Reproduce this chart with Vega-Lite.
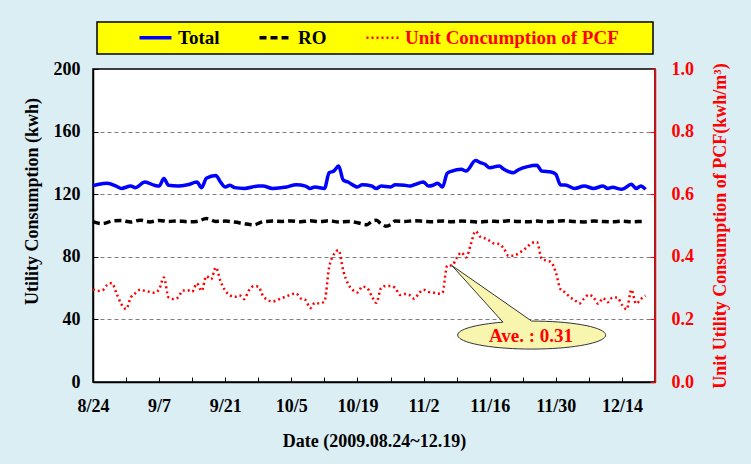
{
"$schema": "https://vega.github.io/schema/vega-lite/v6.json",
"width": 562, "height": 313,
"autosize": {"type": "none"},
"padding": {"left": 93, "top": 69, "right": 96, "bottom": 82},
"background": "#dbeef4",
"config": {
  "view": {"fill": "white", "stroke": "black", "strokeWidth": 1.5},
  "font": "Liberation Serif",
  "axis": {"labelFont": "Liberation Serif", "titleFont": "Liberation Serif", "labelFontWeight": "bold", "titleFontWeight": "bold", "labelOverlap": false, "labelBound": false, "labelFlush": false, "domainWidth": 1.5, "tickWidth": 1}
},
"datasets": {
  "total": [
    {"date":"2009-08-24","v":125.5},{"date":"2009-08-25","v":126.2},{"date":"2009-08-27","v":127},{"date":"2009-08-29","v":125},{"date":"2009-08-30","v":123.7},
    {"date":"2009-09-01","v":125.2},{"date":"2009-09-02","v":124.2},{"date":"2009-09-04","v":127.8},{"date":"2009-09-06","v":125.7},{"date":"2009-09-07","v":125.2},
    {"date":"2009-09-08","v":130},{"date":"2009-09-09","v":125.7},{"date":"2009-09-11","v":125.2},{"date":"2009-09-13","v":126},{"date":"2009-09-15","v":127.8},
    {"date":"2009-09-16","v":124.2},{"date":"2009-09-17","v":130.2},{"date":"2009-09-19","v":132},{"date":"2009-09-20","v":127.8},{"date":"2009-09-21","v":124.6},
    {"date":"2009-09-22","v":125.7},{"date":"2009-09-23","v":124.2},{"date":"2009-09-25","v":123.7},{"date":"2009-09-28","v":125.2},{"date":"2009-09-29","v":125.2},
    {"date":"2009-10-01","v":123.7},{"date":"2009-10-03","v":124.2},{"date":"2009-10-04","v":124.6},{"date":"2009-10-06","v":126.1},{"date":"2009-10-08","v":125.2},
    {"date":"2009-10-09","v":123.7},{"date":"2009-10-10","v":124.6},{"date":"2009-10-12","v":123.7},{"date":"2009-10-13","v":133.7},{"date":"2009-10-14","v":134.8},
    {"date":"2009-10-15","v":138},{"date":"2009-10-16","v":129},{"date":"2009-10-17","v":127.8},{"date":"2009-10-19","v":124.6},{"date":"2009-10-20","v":126},
    {"date":"2009-10-22","v":125.2},{"date":"2009-10-23","v":123.7},{"date":"2009-10-24","v":125.2},{"date":"2009-10-26","v":124.6},{"date":"2009-10-27","v":126},
    {"date":"2009-10-29","v":125.7},{"date":"2009-10-30","v":125.2},{"date":"2009-10-31","v":126},{"date":"2009-11-02","v":127.8},{"date":"2009-11-03","v":125.2},
    {"date":"2009-11-04","v":125.7},{"date":"2009-11-05","v":127},{"date":"2009-11-06","v":124.6},{"date":"2009-11-07","v":133.4},{"date":"2009-11-08","v":134.8},
    {"date":"2009-11-10","v":135.9},{"date":"2009-11-11","v":134.8},{"date":"2009-11-13","v":141.5},{"date":"2009-11-14","v":140.2},{"date":"2009-11-15","v":139.1},
    {"date":"2009-11-16","v":136.9},{"date":"2009-11-18","v":138},{"date":"2009-11-19","v":135.9},{"date":"2009-11-21","v":133.7},{"date":"2009-11-22","v":135.5},
    {"date":"2009-11-24","v":137.6},{"date":"2009-11-26","v":138.5},{"date":"2009-11-27","v":134.8},{"date":"2009-11-29","v":134.2},{"date":"2009-11-30","v":132.7},
    {"date":"2009-12-01","v":125.9},{"date":"2009-12-02","v":125.9},{"date":"2009-12-04","v":123.7},{"date":"2009-12-06","v":125.2},{"date":"2009-12-08","v":123.7},
    {"date":"2009-12-10","v":125.2},{"date":"2009-12-11","v":123.7},{"date":"2009-12-12","v":124.4},{"date":"2009-12-14","v":123.1},{"date":"2009-12-16","v":126.3},
    {"date":"2009-12-17","v":123.7},{"date":"2009-12-18","v":125.2},{"date":"2009-12-19","v":123.1}
  ],
  "ro": [
    {"date":"2009-08-24","v":102.5},{"date":"2009-08-26","v":101.2},{"date":"2009-08-28","v":102.8},{"date":"2009-08-30","v":103.2},{"date":"2009-09-01","v":102.2},
    {"date":"2009-09-03","v":103.4},{"date":"2009-09-05","v":102.3},{"date":"2009-09-07","v":103.2},{"date":"2009-09-09","v":102.6},{"date":"2009-09-11","v":103.0},
    {"date":"2009-09-13","v":102.4},{"date":"2009-09-15","v":102.6},{"date":"2009-09-17","v":104.4},{"date":"2009-09-19","v":102.6},{"date":"2009-09-21","v":102.8},
    {"date":"2009-09-23","v":102.2},{"date":"2009-09-25","v":101.2},{"date":"2009-09-27","v":100.4},{"date":"2009-09-29","v":102.4},{"date":"2009-10-01","v":102.8},
    {"date":"2009-10-03","v":102.6},{"date":"2009-10-05","v":102.9},{"date":"2009-10-07","v":102.4},{"date":"2009-10-09","v":103.0},{"date":"2009-10-11","v":102.5},
    {"date":"2009-10-13","v":103.0},{"date":"2009-10-15","v":102.3},{"date":"2009-10-17","v":102.6},{"date":"2009-10-19","v":101.8},{"date":"2009-10-21","v":100.5},
    {"date":"2009-10-22","v":102.5},{"date":"2009-10-23","v":103.3},{"date":"2009-10-24","v":101.0},{"date":"2009-10-25","v":99.6},{"date":"2009-10-26","v":100.5},
    {"date":"2009-10-27","v":102.8},{"date":"2009-10-29","v":102.6},{"date":"2009-10-31","v":103.0},{"date":"2009-11-02","v":102.7},{"date":"2009-11-04","v":102.4},
    {"date":"2009-11-06","v":102.9},{"date":"2009-11-08","v":102.4},{"date":"2009-11-10","v":102.8},{"date":"2009-11-12","v":102.6},{"date":"2009-11-14","v":102.2},
    {"date":"2009-11-16","v":102.8},{"date":"2009-11-18","v":102.5},{"date":"2009-11-20","v":103.0},{"date":"2009-11-22","v":102.6},{"date":"2009-11-24","v":102.4},
    {"date":"2009-11-26","v":102.8},{"date":"2009-11-28","v":102.4},{"date":"2009-11-30","v":102.7},{"date":"2009-12-02","v":103.0},{"date":"2009-12-04","v":102.5},
    {"date":"2009-12-06","v":102.3},{"date":"2009-12-08","v":102.8},{"date":"2009-12-10","v":102.5},{"date":"2009-12-12","v":102.4},{"date":"2009-12-14","v":102.8},
    {"date":"2009-12-16","v":102.4},{"date":"2009-12-18","v":102.6},{"date":"2009-12-19","v":102.7}
  ],
  "pcf": [
    {"date":"2009-08-24","v":0.296},{"date":"2009-08-25","v":0.291},{"date":"2009-08-26","v":0.293},{"date":"2009-08-27","v":0.310},{"date":"2009-08-28","v":0.316},
    {"date":"2009-08-29","v":0.282},{"date":"2009-08-30","v":0.249},{"date":"2009-08-31","v":0.233},{"date":"2009-09-01","v":0.270},{"date":"2009-09-02","v":0.284},
    {"date":"2009-09-03","v":0.295},{"date":"2009-09-04","v":0.291},{"date":"2009-09-05","v":0.288},{"date":"2009-09-06","v":0.285},{"date":"2009-09-07","v":0.296},
    {"date":"2009-09-08","v":0.334},{"date":"2009-09-09","v":0.270},{"date":"2009-09-10","v":0.265},{"date":"2009-09-11","v":0.270},{"date":"2009-09-12","v":0.292},
    {"date":"2009-09-13","v":0.293},{"date":"2009-09-14","v":0.288},{"date":"2009-09-15","v":0.315},{"date":"2009-09-16","v":0.291},{"date":"2009-09-17","v":0.338},
    {"date":"2009-09-18","v":0.328},{"date":"2009-09-19","v":0.366},{"date":"2009-09-20","v":0.322},{"date":"2009-09-21","v":0.292},{"date":"2009-09-22","v":0.277},
    {"date":"2009-09-23","v":0.272},{"date":"2009-09-24","v":0.277},{"date":"2009-09-25","v":0.265},{"date":"2009-09-26","v":0.292},{"date":"2009-09-27","v":0.306},
    {"date":"2009-09-28","v":0.305},{"date":"2009-09-29","v":0.275},{"date":"2009-09-30","v":0.262},{"date":"2009-10-01","v":0.257},{"date":"2009-10-02","v":0.262},
    {"date":"2009-10-03","v":0.268},{"date":"2009-10-04","v":0.274},{"date":"2009-10-05","v":0.280},{"date":"2009-10-06","v":0.283},{"date":"2009-10-07","v":0.267},
    {"date":"2009-10-08","v":0.262},{"date":"2009-10-09","v":0.236},{"date":"2009-10-10","v":0.253},{"date":"2009-10-11","v":0.251},{"date":"2009-10-12","v":0.257},
    {"date":"2009-10-13","v":0.366},{"date":"2009-10-14","v":0.408},{"date":"2009-10-15","v":0.421},{"date":"2009-10-16","v":0.355},{"date":"2009-10-17","v":0.314},
    {"date":"2009-10-18","v":0.294},{"date":"2009-10-19","v":0.286},{"date":"2009-10-20","v":0.305},{"date":"2009-10-21","v":0.301},{"date":"2009-10-22","v":0.275},
    {"date":"2009-10-23","v":0.253},{"date":"2009-10-24","v":0.300},{"date":"2009-10-25","v":0.307},{"date":"2009-10-26","v":0.307},{"date":"2009-10-27","v":0.300},
    {"date":"2009-10-28","v":0.278},{"date":"2009-10-29","v":0.281},{"date":"2009-10-30","v":0.278},{"date":"2009-10-31","v":0.266},{"date":"2009-11-01","v":0.283},
    {"date":"2009-11-02","v":0.295},{"date":"2009-11-03","v":0.288},{"date":"2009-11-04","v":0.286},{"date":"2009-11-05","v":0.282},{"date":"2009-11-06","v":0.285},
    {"date":"2009-11-07","v":0.372},{"date":"2009-11-08","v":0.372},{"date":"2009-11-09","v":0.396},{"date":"2009-11-10","v":0.414},{"date":"2009-11-11","v":0.398},
    {"date":"2009-11-12","v":0.440},{"date":"2009-11-13","v":0.482},{"date":"2009-11-14","v":0.464},{"date":"2009-11-15","v":0.459},{"date":"2009-11-16","v":0.451},
    {"date":"2009-11-17","v":0.442},{"date":"2009-11-18","v":0.441},{"date":"2009-11-19","v":0.426},{"date":"2009-11-20","v":0.403},{"date":"2009-11-21","v":0.403},
    {"date":"2009-11-22","v":0.410},{"date":"2009-11-23","v":0.420},{"date":"2009-11-24","v":0.432},{"date":"2009-11-25","v":0.445},{"date":"2009-11-26","v":0.447},
    {"date":"2009-11-27","v":0.394},{"date":"2009-11-28","v":0.388},{"date":"2009-11-29","v":0.383},{"date":"2009-11-30","v":0.350},{"date":"2009-12-01","v":0.296},
    {"date":"2009-12-02","v":0.286},{"date":"2009-12-03","v":0.271},{"date":"2009-12-04","v":0.262},{"date":"2009-12-05","v":0.251},{"date":"2009-12-06","v":0.267},
    {"date":"2009-12-07","v":0.279},{"date":"2009-12-08","v":0.270},{"date":"2009-12-09","v":0.250},{"date":"2009-12-10","v":0.268},{"date":"2009-12-11","v":0.255},
    {"date":"2009-12-12","v":0.270},{"date":"2009-12-13","v":0.270},{"date":"2009-12-14","v":0.247},{"date":"2009-12-15","v":0.232},{"date":"2009-12-16","v":0.295},
    {"date":"2009-12-17","v":0.250},{"date":"2009-12-18","v":0.265},{"date":"2009-12-19","v":0.276}
  ],
  "ann": [{"date":"2009-11-08","v":0.372,"label":"Ave. : 0.31"}]
},
"encoding": {
  "x": {"field": "date", "type": "temporal",
    "scale": {"type": "utc", "domain": [{"year":2009,"month":8,"date":24,"utc":true},{"year":2009,"month":12,"date":21,"utc":true}]},
    "axis": {"title": "Date (2009.08.24~12.19)", "titleFontSize": 18, "titleColor": "black", "titlePadding": 17,
      "values": [{"year":2009,"month":8,"date":24,"utc":true},{"year":2009,"month":8,"date":31,"utc":true},{"year":2009,"month":9,"date":7,"utc":true},{"year":2009,"month":9,"date":14,"utc":true},{"year":2009,"month":9,"date":21,"utc":true},{"year":2009,"month":9,"date":28,"utc":true},{"year":2009,"month":10,"date":5,"utc":true},{"year":2009,"month":10,"date":12,"utc":true},{"year":2009,"month":10,"date":19,"utc":true},{"year":2009,"month":10,"date":26,"utc":true},{"year":2009,"month":11,"date":2,"utc":true},{"year":2009,"month":11,"date":9,"utc":true},{"year":2009,"month":11,"date":16,"utc":true},{"year":2009,"month":11,"date":23,"utc":true},{"year":2009,"month":11,"date":30,"utc":true},{"year":2009,"month":12,"date":7,"utc":true},{"year":2009,"month":12,"date":14,"utc":true},{"year":2009,"month":12,"date":21,"utc":true}],
      "labelExpr": "round((datum.value - utc(2009,7,24)) / 604800000) % 2 === 0 && datum.value < utc(2009,11,20) ? utcFormat(datum.value, '%-m/%-d') : ''",
      "labelFontSize": 18, "labelColor": "black", "labelPadding": 20,
      "tickSize": -5, "tickColor": "black", "domainColor": "black", "grid": false}
  }
},
"layer": [
  {"layer": [
    {"data": {"name": "total"},
     "mark": {"type": "line", "strokeWidth": 3.5, "interpolate": "monotone"},
     "encoding": {
       "y": {"field": "v", "type": "quantitative", "scale": {"domain": [0, 200], "nice": false},
         "axis": {"orient": "left", "title": "Utility Consumption (kwh)", "titleFontSize": 18, "titleColor": "black", "titlePadding": 12, "titleY": 132,
           "values": [0,5,10,15,20,25,30,35,40,45,50,55,60,65,70,75,80,85,90,95,100,105,110,115,120,125,130,135,140,145,150,155,160,165,170,175,180,185,190,195,200],
           "labelExpr": "datum.value % 40 === 0 ? datum.label : ''",
           "labelFontSize": 18, "labelColor": "black", "labelPadding": 18,
           "tickSize": -5, "tickColor": "black", "domainColor": "black",
           "grid": true, "gridColor": "#7f7f7f", "gridDash": [4, 3], "gridWidth": 1,
           "gridOpacity": {"condition": {"test": "datum.value % 40 === 0 && datum.value > 0 && datum.value < 200", "value": 1}, "value": 0}}},
       "color": {"datum": "Total", "type": "nominal",
         "scale": {"domain": ["Total", "RO", "Unit Concumption of PCF"], "range": ["#0000ff", "#000000", "#ff0000"]},
         "legend": {"orient": "none", "legendX": 4, "legendY": -47, "direction": "horizontal", "title": null,
           "fillColor": "#ffff00", "strokeColor": "black", "padding": 6,
           "symbolType": "stroke", "symbolSize": 1024, "symbolStrokeWidth": 3.5, "symbolOffset": 43,
           "labelFont": "Liberation Serif", "labelFontSize": 19, "labelFontWeight": "bold", "labelColor": "black", "labelLimit": 400,
           "labelOffset": 13, "columnPadding": 3,
           "labelExpr": "datum.value === 'Unit Concumption of PCF' ? datum.label + '\u2800\u2800' : datum.label",
           "encode": {
             "legend": {"update": {"strokeWidth": {"value": 1.5}}},
             "labels": {"update": {"fill": {"signal": "datum.value === 'Unit Concumption of PCF' ? '#ff0000' : '#000000'"}}},
             "symbols": {"update": {"strokeDash": {"signal": "datum.value === 'RO' ? [7,4] : datum.value === 'Unit Concumption of PCF' ? [2,3] : [1,0]"}, "strokeWidth": {"signal": "datum.value === 'Unit Concumption of PCF' ? 2.5 : 3.5"}}}
           }}}
     }},
    {"data": {"name": "ro"},
     "mark": {"type": "line", "strokeWidth": 3.5, "strokeDash": [7, 4], "interpolate": "monotone"},
     "encoding": {
       "y": {"field": "v", "type": "quantitative", "scale": {"domain": [0, 200], "nice": false}},
       "color": {"datum": "RO", "type": "nominal", "scale": {"domain": ["Total", "RO", "Unit Concumption of PCF"], "range": ["#0000ff", "#000000", "#ff0000"]}}
     }}
  ]},
  {"layer": [
    {"data": {"name": "pcf"},
     "mark": {"type": "line", "strokeWidth": 2.5, "strokeDash": [2, 3], "interpolate": "monotone"},
     "encoding": {
       "y": {"field": "v", "type": "quantitative", "scale": {"domain": [0, 1], "nice": false},
         "axis": {"orient": "right", "title": "Unit Utility Consumption of PCF(kwh/m³)", "titleFontSize": 18, "titleColor": "#ff0000", "titleAngle": 270, "titleBaseline": "top", "titlePadding": 18,
           "values": [0,0.05,0.1,0.15,0.2,0.25,0.3,0.35,0.4,0.45,0.5,0.55,0.6,0.65,0.7,0.75,0.8,0.85,0.9,0.95,1],
           "labelExpr": "round(datum.value * 100) % 20 === 0 ? format(datum.value, '.1f') : ''",
           "labelFontSize": 18, "labelColor": "#ff0000", "labelPadding": 21,
           "tickSize": -5, "tickColor": "#ff0000", "domainColor": "#ff0000", "grid": false}},
       "color": {"datum": "Unit Concumption of PCF", "type": "nominal", "scale": {"domain": ["Total", "RO", "Unit Concumption of PCF"], "range": ["#0000ff", "#000000", "#ff0000"]}}
     }},
    {"data": {"name": "ann"},
     "mark": {"type": "point", "shape": "M51,56.6L0,0L79.7,55.5A74,14,0,1,1,51,56.6Z", "size": 4, "filled": true, "fill": "#f8f6ae", "stroke": "#333333", "strokeWidth": 1, "opacity": 1},
     "encoding": {"y": {"field": "v", "type": "quantitative", "scale": {"domain": [0, 1], "nice": false}}}},
    {"data": {"name": "ann"},
     "mark": {"type": "text", "dx": 79, "dy": 70, "align": "center", "baseline": "middle", "font": "Liberation Serif", "fontSize": 19, "fontWeight": "bold", "color": "#ff0000"},
     "encoding": {"y": {"field": "v", "type": "quantitative", "scale": {"domain": [0, 1], "nice": false}}, "text": {"field": "label"}}}
  ]}
],
"resolve": {"scale": {"y": "independent"}}
}
